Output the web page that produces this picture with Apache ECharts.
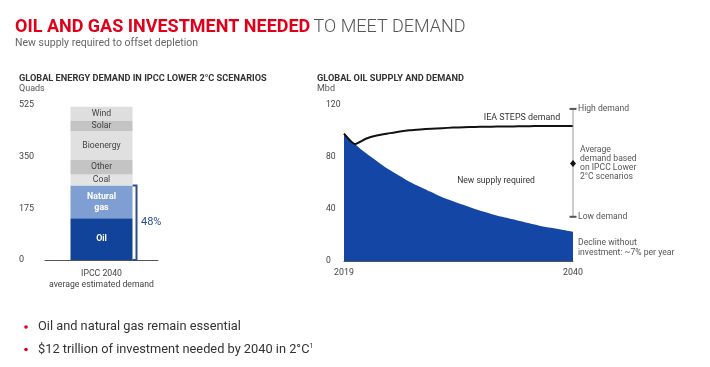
<!DOCTYPE html>
<html><head><meta charset="utf-8">
<script src="https://cdn.jsdelivr.net/npm/echarts@6/dist/echarts.min.js"></script>
<style>html,body{margin:0;padding:0;background:#fff}#c{width:710px;height:367px}</style>
</head><body><div id="c"></div>
<script>
// ---- Left chart data (Quads) ----
const energyCategories = ['IPCC 2040\naverage estimated demand'];
const energySources = ['Oil', 'Natural\ngas', 'Coal', 'Other', 'Bioenergy', 'Solar', 'Wind'];
const energyValues = [141, 111, 38, 49, 98, 34, 48];
const energyTicks = [0, 175, 350, 525];
const bracketLabel = '48%';

// ---- Right chart data (Mbd) ----
const years = ['2019','2020','2021','2022','2023','2024','2025','2026','2027','2028','2029','2030','2031','2032','2033','2034','2035','2036','2037','2038','2039','2040'];
const supplyNoInvestment = [98, 90, 83, 77, 71, 66, 61, 57, 53, 49, 46, 43, 40, 37.5, 35, 33, 31, 29, 27, 25.5, 24, 22.5];
const ieaStepsDemand = [98, 90, 94, 96.5, 98, 99.5, 100.5, 101.2, 101.8, 102.2, 102.6, 102.9, 103.1, 103.3, 103.4, 103.5, 103.6, 103.7, 103.8, 103.8, 103.8, 103.8];
const ipccRange = { year: '2040', low: 34, avg: 75, high: 117 };
const oilTicks = [0, 40, 80, 120];

const FONT = 'Roboto, "Open Sans", sans-serif';
const segColors = ['#12439a', '#7f9fd3', '#e3e3e3', '#c4c4c4', '#e0e0e0', '#c4c4c4', '#dedede'];

const chart = echarts.init(document.getElementById('c'), null, { renderer: 'canvas' });

const barSeries = energySources.map((name, i) => ({
  name: name, type: 'bar', stack: 'e', xAxisIndex: 0, yAxisIndex: 0,
  barWidth: 62, data: [energyValues[i]],
  itemStyle: { color: segColors[i] },
  label: {
    show: true, position: 'inside', formatter: name,
    fontFamily: FONT, fontSize: i < 2 ? 8.8 : 8.7, fontWeight: i < 2 ? 'bold' : 'normal',
    color: i < 2 ? '#fff' : '#444', lineHeight: 11
  },
  emphasis: { disabled: true }, silent: true
}));

const bracketSeries = {
  type: 'custom', xAxisIndex: 0, yAxisIndex: 0, silent: true,
  data: [[0, 0, energyValues[0] + energyValues[1]]],
  renderItem: function (params, api) {
    const b = api.coord([api.value(0), api.value(1)]);
    const t = api.coord([api.value(0), api.value(2)]);
    const x = b[0] + 35;
    return { type: 'group', children: [
      { type: 'polyline', shape: { points: [[x - 4, t[1]], [x, t[1]], [x, b[1]], [x - 4, b[1]]] },
        style: { stroke: '#2b4d8c', lineWidth: 2, fill: null } },
      { type: 'text', x: x + 4.5, y: (t[1] + b[1]) / 2 - 1,
        style: { text: bracketLabel, fontFamily: FONT, fontSize: 11, fill: '#2b4d8c', verticalAlign: 'middle' } }
    ]};
  }
};

const rangeSeries = {
  type: 'custom', xAxisIndex: 1, yAxisIndex: 1, silent: true, z: 5,
  data: [[years.indexOf(ipccRange.year), ipccRange.low, ipccRange.avg, ipccRange.high]],
  renderItem: function (params, api) {
    const lo = api.coord([api.value(0), api.value(1)]);
    const av = api.coord([api.value(0), api.value(2)]);
    const hi = api.coord([api.value(0), api.value(3)]);
    const x = lo[0];
    const tf = { fontFamily: FONT, fontSize: 8.6, fill: '#555', verticalAlign: 'middle' };
    return { type: 'group', children: [
      { type: 'line', shape: { x1: x, y1: hi[1], x2: x, y2: lo[1] }, style: { stroke: '#999', lineWidth: 1 } },
      { type: 'line', shape: { x1: x - 3.5, y1: hi[1], x2: x + 3.5, y2: hi[1] }, style: { stroke: '#555', lineWidth: 2 } },
      { type: 'line', shape: { x1: x - 3.5, y1: lo[1], x2: x + 3.5, y2: lo[1] }, style: { stroke: '#555', lineWidth: 2 } },
      { type: 'polygon', shape: { points: [[x, av[1] - 3.5], [x + 3, av[1]], [x, av[1] + 3.5], [x - 3, av[1]]] }, style: { fill: '#111' } },
      { type: 'text', x: x + 5, y: hi[1], style: Object.assign({ text: 'High demand' }, tf) },
      { type: 'text', x: x + 5, y: lo[1], style: Object.assign({ text: 'Low demand' }, tf) },
      { type: 'text', x: x + 7, y: av[1], style: Object.assign({}, tf, { text: 'Average\ndemand based\non IPCC Lower\n2°C scenarios', fontSize: 8.6, lineHeight: 8.8 }) }
    ]};
  }
};

const axisLabelBase = { fontFamily: FONT, fontSize: 9, color: '#444' };

function txt(x, y, text, size, color, extra) {
  return { type: 'text', x: x, y: y, style: Object.assign({ text: text, fontFamily: FONT, fontSize: size, fill: color, verticalAlign: 'middle' }, extra || {}) };
}

chart.setOption({
  animation: false,
  grid: [
    { left: 45, right: 552, top: 105, bottom: 107 },
    { left: 344, right: 137, top: 105, bottom: 106 }
  ],
  xAxis: [
    { type: 'category', gridIndex: 0, data: energyCategories,
      axisLine: { lineStyle: { color: '#555', width: 1 } }, axisTick: { show: false },
      axisLabel: Object.assign({}, axisLabelBase, { fontSize: 8.7, lineHeight: 11.5, margin: 8 }) },
    { type: 'category', gridIndex: 1, data: years, boundaryGap: false,
      axisLine: { lineStyle: { color: '#555', width: 1 } }, axisTick: { show: false },
      axisLabel: Object.assign({}, axisLabelBase, { fontSize: 8.8, margin: 7, interval: function (i) { return i === 0 || i === years.length - 1; } }) }
  ],
  yAxis: [
    { type: 'value', gridIndex: 0, min: energyTicks[0], max: energyTicks[energyTicks.length - 1], interval: energyTicks[1] - energyTicks[0],
      axisLine: { show: false }, axisTick: { show: false }, splitLine: { show: false },
      axisLabel: Object.assign({}, axisLabelBase, { align: 'left', margin: 26 }) },
    { type: 'value', gridIndex: 1, min: oilTicks[0], max: oilTicks[oilTicks.length - 1], interval: oilTicks[1] - oilTicks[0],
      axisLine: { show: false }, axisTick: { show: false }, splitLine: { show: false },
      axisLabel: Object.assign({}, axisLabelBase, { fontSize: 8.6, align: 'left', margin: 18 }) }
  ],
  series: barSeries.concat([
    bracketSeries,
    { name: 'Decline without investment', type: 'line', xAxisIndex: 1, yAxisIndex: 1, data: supplyNoInvestment,
      symbol: 'none', smooth: 0.3, lineStyle: { width: 0 }, areaStyle: { color: '#1446a6', opacity: 1 }, silent: true, z: 2 },
    { name: 'IEA STEPS demand', type: 'line', xAxisIndex: 1, yAxisIndex: 1, data: ieaStepsDemand,
      symbol: 'none', smooth: 0.2, lineStyle: { width: 2, color: '#111' }, silent: true, z: 3 },
    rangeSeries
  ]),
  graphic: [
    { type: 'text', x: 15, y: 27.5, style: {
      text: '{a|OIL AND GAS INVESTMENT NEEDED} {b|TO MEET DEMAND}', verticalAlign: 'middle',
      rich: {
        a: { fontFamily: FONT, fontSize: 18, fontWeight: 'bold', fill: '#e1001a' },
        b: { fontFamily: FONT, fontSize: 18, fontWeight: 300, fill: '#555' }
      } } },
    txt(15, 43, 'New supply required to offset depletion', 10.5, '#666'),
    txt(19, 79, 'GLOBAL ENERGY DEMAND IN IPCC LOWER 2°C SCENARIOS', 9.2, '#333', { fontWeight: 'bold' }),
    txt(19, 88.5, 'Quads', 9, '#555'),
    txt(317, 79, 'GLOBAL OIL SUPPLY AND DEMAND', 9.2, '#333', { fontWeight: 'bold' }),
    txt(317, 88.5, 'Mbd', 9, '#555'),
    txt(522, 118, 'IEA STEPS demand', 8.9, '#333', { align: 'center' }),
    txt(496, 181, 'New supply required', 8.6, '#333', { align: 'center' }),
    txt(578, 248, 'Decline without\ninvestment: ~7% per year', 8.6, '#555', { lineHeight: 10.6 }),
    { type: 'circle', shape: { cx: 26, cy: 327, r: 1.8 }, style: { fill: '#e1001a' } },
    { type: 'circle', shape: { cx: 26, cy: 349.5, r: 1.8 }, style: { fill: '#e1001a' } },
    txt(38, 327, 'Oil and natural gas remain essential', 12.8, '#333'),
    { type: 'text', x: 38, y: 349.5, style: {
      text: '{t|$12 trillion of investment needed by 2040 in 2°C}{s|1}', verticalAlign: 'middle',
      rich: { t: { fontFamily: FONT, fontSize: 12.8, fill: '#333' }, s: { fontFamily: FONT, fontSize: 7, fill: '#333', verticalAlign: 'top', padding: [0, 0, 6, 0] } } } }
  ]
});
</script></body></html>
